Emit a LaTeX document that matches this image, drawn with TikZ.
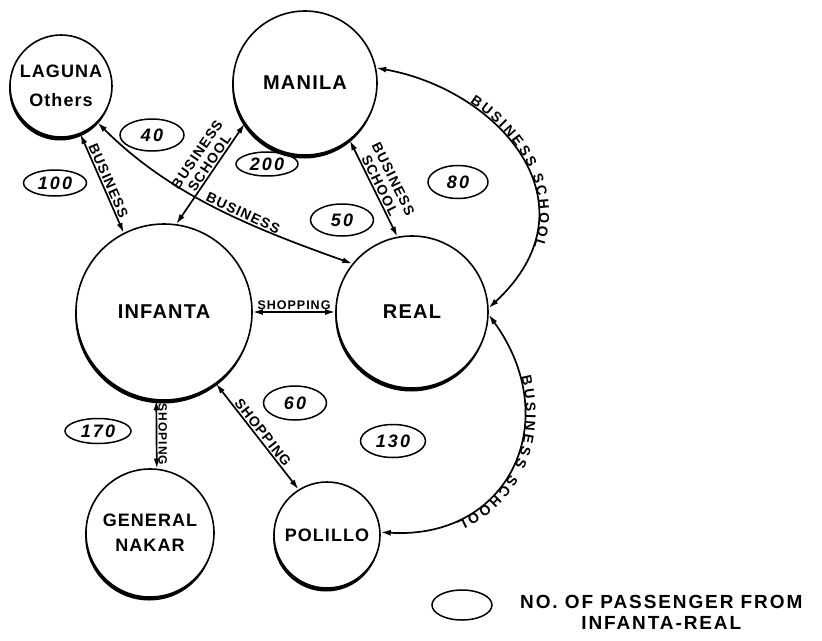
\documentclass[tikz,border=0pt]{standalone}
\usepackage{fontspec}
\setmainfont{Liberation Sans}
\newfontfamily\placefont[LetterSpace=6]{Liberation Sans Bold}
\newfontfamily\labelfont[LetterSpace=8]{Liberation Sans Bold}
\newfontfamily\pathfont{Liberation Sans Bold}
\newfontfamily\numfont[LetterSpace=12]{Liberation Sans Bold Italic}
\newfontfamily\legendfont[LetterSpace=10]{Liberation Sans Bold}
\usetikzlibrary{arrows.meta, shapes.geometric, shadows, decorations.text}

\tikzset{
  place/.style={circle, draw, line width=1.6pt, fill=white, inner sep=0pt, align=center,
    drop shadow={fill=black, opacity=1, shadow xshift=-0.8pt, shadow yshift=-3.5pt}},
  bigname/.style={font=\placefont\fontsize{20}{22}\selectfont},
  smallname/.style={font=\placefont\fontsize{18}{#1}\selectfont},
  count/.style={ellipse, draw, line width=1.5pt, inner sep=0pt,
    font=\numfont\fontsize{18}{18}\selectfont},
  link/.style={line width=1.7pt, {Latex[length=10pt,width=6pt]}-{Latex[length=10pt,width=6pt]}},
  tag/.style={font=\labelfont\fontsize{14}{15}\selectfont, inner sep=1.2pt, align=center},
  arclabel/.style={decorate, decoration={text along path, raise=2.5pt,
    text={|\pathfont\fontsize{14}{15}\selectfont|#1}}},
}

\begin{document}
\begin{tikzpicture}[x=1pt, y=-1pt]
\useasboundingbox (0,0) rectangle (822,640);

% places
\node[place, minimum size=102pt, smallname=29] (laguna) at (61,86) {LAGUNA\\Others};
\node[place, minimum size=144pt, bigname] (manila) at (305,83) {MANILA};
\node[place, minimum size=176pt, bigname] (infanta) at (164,312) {INFANTA};
\node[place, minimum size=152pt, bigname] (real) at (412,312) {REAL};
\node[place, minimum size=128pt, smallname=25] (nakar) at (150,533) {GENERAL\\NAKAR};
\node[place, minimum size=106pt, smallname=20] (polillo) at (327,535) {POLILLO};

% passenger counts
\node[count, minimum width=64pt, minimum height=32pt] (c40) at (152,135) {40};
\node[count, minimum width=63pt, minimum height=26pt] (c100) at (55,183) {100};
\node[count, minimum width=62pt, minimum height=24pt] (c200) at (267,164) {200};
\node[count, minimum width=63pt, minimum height=32pt] (c50) at (342,220) {50};
\node[count, minimum width=60pt, minimum height=33pt] (c80) at (458,182) {80};
\node[count, minimum width=63pt, minimum height=34pt] (c60) at (295,403) {60};
\node[count, minimum width=65pt, minimum height=33pt] (c130) at (393,441) {130};
\node[count, minimum width=66pt, minimum height=25pt] (c170) at (98,431) {170};

% trips
\draw[link] (laguna.-68) -- node[tag, sloped, above] {BUSINESS} (infanta.117);
\draw[link] (laguna.-45) .. controls (170,195) and (252,228)
  .. node[tag, sloped, above, pos=0.6] {BUSINESS} (real.141);
\draw[link] (infanta.82) -- node[tag, sloped, above, pos=0.57] {BUSINESS\\SCHOOL} (manila.214);
\draw[link] (manila.-52) -- node[tag, sloped, above] {BUSINESS\\SCHOOL} (real.101);
\draw[link] (infanta) -- node[tag, above, font=\labelfont\fontsize{12.5}{13}\selectfont] {SHOPPING} (real);
\draw[link] (infanta.-95) -- node[tag, anchor=south, rotate=-90,
  font=\labelfont\fontsize{12}{13}\selectfont] {SHOPING} (nakar.84);
\draw[link] (infanta.-54) -- node[tag, sloped, above] {SHOPPING} (polillo.122);

\draw[link] (manila.12) .. controls (500,90) and (600,205) .. (real.3);
\path[arclabel={BUSINESS SCHOOL},
  decoration={text align={fit to path, left indent=100pt, right indent=76pt}}]
  (manila.12) .. controls (500,90) and (600,205) .. (real.3);

\draw[link] (real.-2) .. controls (565,420) and (510,540) .. (polillo.3);
\path[arclabel={BUSINESS SCHOOL},
  decoration={text align={fit to path, left indent=70pt, right indent=76pt}}]
  (real.-2) .. controls (565,420) and (510,540) .. (polillo.3);

% key
\node[count, minimum width=60pt, minimum height=30pt] (key) at (462,605) {};
\node[font=\legendfont\fontsize{19}{21}\selectfont, align=center, anchor=west, inner sep=0pt]
  (keytext) at (520,612) {NO. OF PASSENGER FROM\\INFANTA-REAL};
\end{tikzpicture}
\end{document}
